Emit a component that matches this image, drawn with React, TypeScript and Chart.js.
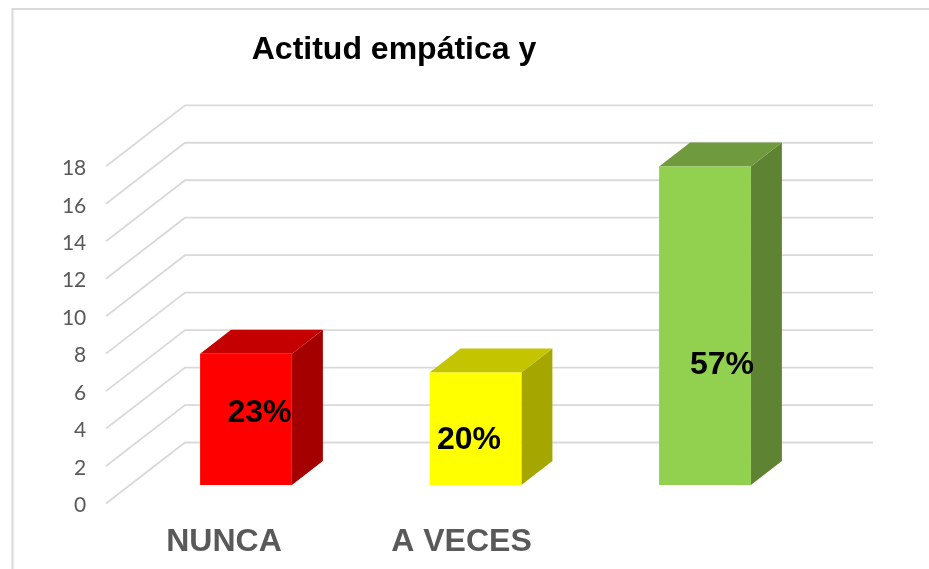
import React, { useEffect, useRef } from "react";
import { Chart, registerables } from "chart.js";

Chart.register(...registerables);

const titleText = "Actitud empática y";
const categories = ["NUNCA", "A VECES", ""];
const values = [7, 6, 17];
const percentLabels = ["23%", "20%", "57%"];
const frontColors = ["#ff0000", "#ffff00", "#92d050"];
const topColors = ["#c40000", "#c4c400", "#6f9a3e"];
const sideColors = ["#a40000", "#a6a600", "#5e8332"];

const DEPTH_X = 31;
const DEPTH_Y = 24;
const GRID_COLOR = "#d9d9d9";
const percentNudgeX = [13.5, -6.5, 17];
const percentNudgeY = [-6.5, 11.5, 39];
const categoryNudgeX = [-22, -14, 0];

const threeD = {
  id: "threeD",
  beforeDraw(chart: any) {
    const { ctx } = chart;
    ctx.save();
    ctx.strokeStyle = GRID_COLOR;
    ctx.lineWidth = 2;
    ctx.strokeRect(12.5, 9, 1000, 1000);
    ctx.restore();

    const tb = chart.titleBlock;
    tb.left = 194;
    tb.right = 594;
    tb.top = 31.4;
    tb.bottom = 68.6;

    const xs = chart.scales.x;
    xs.getLabelItems().forEach((item: any, i: number) => {
      item.options.translation[0] = xs.getPixelForTick(i) + categoryNudgeX[i];
    });
  },
  beforeDatasetsDraw(chart: any) {
    const { ctx, scales } = chart;
    const ys = scales.y;
    ctx.save();
    ctx.strokeStyle = GRID_COLOR;
    ctx.lineWidth = 1.8;
    ys.ticks.forEach((t: any) => {
      const p = ys.getPixelForValue(t.value);
      ctx.beginPath();
      ctx.moveTo(106, p + 18.5);
      ctx.lineTo(185, p - 42.5);
      ctx.lineTo(873, p - 42.5);
      ctx.stroke();
    });
    chart.getDatasetMeta(0).data.forEach((bar: any, i: number) => {
      const right = bar.x + bar.width / 2;
      const left = bar.x - bar.width / 2;
      ctx.fillStyle = sideColors[i];
      ctx.beginPath();
      ctx.moveTo(right, bar.y);
      ctx.lineTo(right + DEPTH_X, bar.y - DEPTH_Y);
      ctx.lineTo(right + DEPTH_X, bar.base - DEPTH_Y);
      ctx.lineTo(right, bar.base);
      ctx.closePath();
      ctx.fill();
      ctx.fillStyle = topColors[i];
      ctx.beginPath();
      ctx.moveTo(left, bar.y);
      ctx.lineTo(left + DEPTH_X, bar.y - DEPTH_Y);
      ctx.lineTo(right + DEPTH_X, bar.y - DEPTH_Y);
      ctx.lineTo(right, bar.y);
      ctx.closePath();
      ctx.fill();
    });
    ctx.restore();
  },
  afterDatasetsDraw(chart: any) {
    const { ctx } = chart;
    ctx.save();
    ctx.fillStyle = "#000000";
    ctx.font = 'bold 32px "Liberation Sans"';
    ctx.textAlign = "center";
    ctx.textBaseline = "middle";
    chart.getDatasetMeta(0).data.forEach((bar: any, i: number) => {
      ctx.fillText(
        percentLabels[i],
        bar.x + percentNudgeX[i],
        (bar.y + bar.base) / 2 + percentNudgeY[i]
      );
    });
    ctx.restore();
  },
};

export default function App() {
  const ref = useRef<HTMLCanvasElement>(null);
  useEffect(() => {
    const chart = new Chart(ref.current as HTMLCanvasElement, {
      type: "bar",
      data: {
        labels: categories,
        datasets: [
          {
            data: values,
            backgroundColor: frontColors,
            barPercentage: 0.4,
            categoryPercentage: 1,
          },
        ],
      },
      options: {
        responsive: false,
        animation: false,
        layout: { padding: { left: 0, right: 109.25, top: 109.4, bottom: 0 } },
        plugins: {
          legend: { display: false },
          tooltip: { enabled: false },
          title: {
            display: true,
            text: titleText,
            color: "#000000",
            padding: 0,
            font: { family: '"Liberation Sans"', size: 32, weight: "bold", lineHeight: 1.2 },
          },
        },
        scales: {
          x: {
            grid: { display: false },
            border: { display: false },
            afterFit: (s: any) => {
              s.height = 84;
            },
            ticks: {
              color: "#595959",
              padding: 30,
              maxRotation: 0,
              autoSkip: false,
              font: { family: '"Liberation Sans"', size: 32, weight: "bold" },
            },
          },
          y: {
            min: 0,
            max: 18,
            grid: { display: false },
            border: { display: false },
            afterFit: (s: any) => {
              s.width = 131.25;
            },
            ticks: {
              stepSize: 2,
              color: "#595959",
              padding: 37,
              labelOffset: 20.5,
              font: { family: "Lato", size: 21 },
            },
          },
        },
      },
      plugins: [threeD],
    } as any);
    return () => chart.destroy();
  }, []);
  return (
    <div style={{ position: "absolute", left: 0, top: 0, width: 929, height: 569, background: "#fff", overflow: "hidden" }}>
      <canvas ref={ref} width={929} height={569} style={{ display: "block" }} />
    </div>
  );
}
